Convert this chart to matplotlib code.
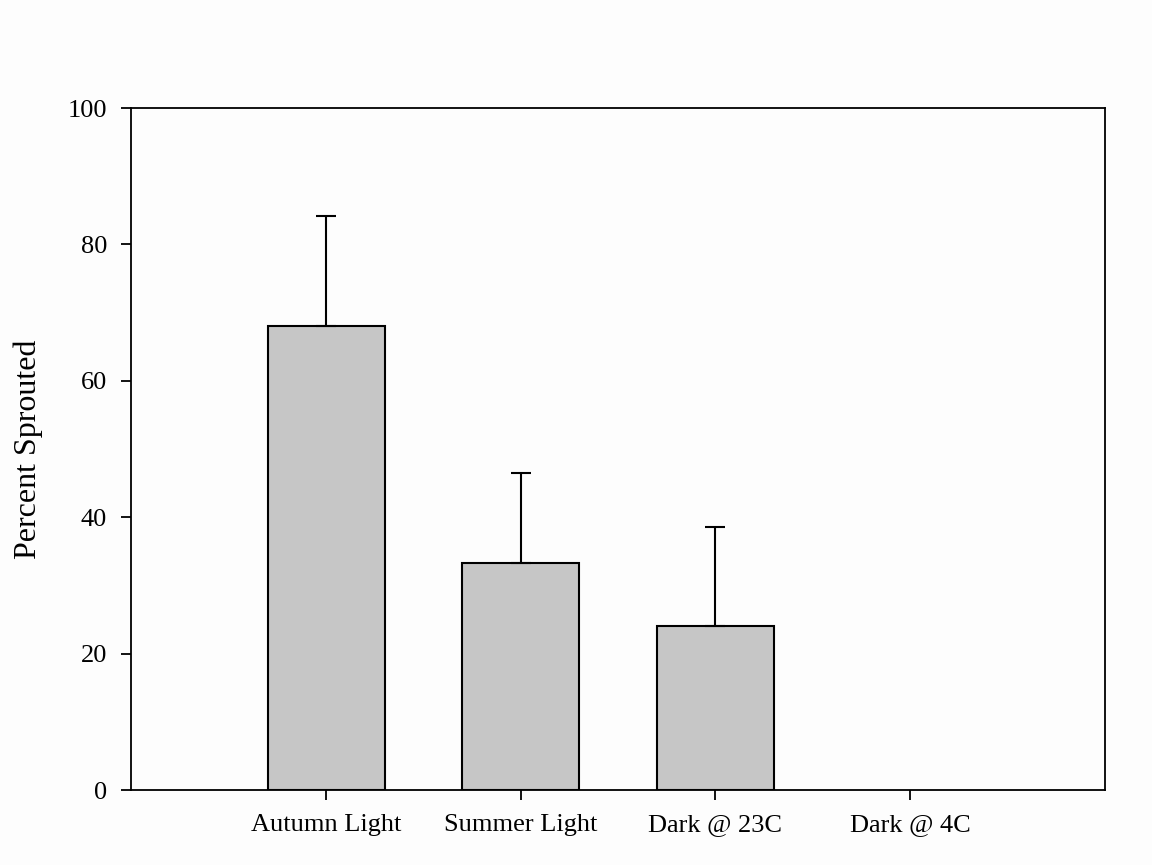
import matplotlib
matplotlib.use("Agg")
import matplotlib.pyplot as plt

categories = ["Autumn Light", "Summer Light", "Dark @ 23C", "Dark @ 4C"]
values = [68.1, 33.3, 24.1, 0.0]
errors = [16.0, 13.2, 14.5, 0.0]
yticks = [0, 20, 40, 60, 80, 100]

plt.rcParams['font.family'] = ['Liberation Serif', 'DejaVu Serif']

fig = plt.figure(figsize=(11.52, 8.65), dpi=100, facecolor='#fdfdfd')
ax = fig.add_axes([0.1141, 0.0867, 0.959 - 0.1141, 0.8751 - 0.0867])
ax.set_facecolor('#fdfdfd')

x = list(range(len(categories)))
bars_x = [i for i, v in zip(x, values) if v > 0]
bars_v = [v for v in values if v > 0]
bars_e = [e for v, e in zip(values, errors) if v > 0]
ax.bar(bars_x, bars_v, width=0.6, color='#c6c6c6', edgecolor='black', linewidth=1.5, zorder=2)
ax.errorbar(bars_x, bars_v, yerr=[[0]*len(bars_e), bars_e], fmt='none', ecolor='black',
            elinewidth=1.5, capsize=7.5, capthick=1.5, zorder=3)

ax.set_xlim(-1, 4)
ax.set_ylim(0, 100)
ax.set_xticks(x)
ax.set_xticklabels(categories)
ax.set_yticks(yticks)
ax.tick_params(axis='both', direction='out', length=7.5, width=1.3, labelsize=19)
ax.tick_params(axis='y', pad=10)
ax.tick_params(axis='x', pad=10)
for s in ax.spines.values():
    s.set_linewidth(1.3)
ax.set_ylabel("Percent Sprouted", fontsize=23, labelpad=18)

fig.savefig("out.png", dpi=100, facecolor=fig.get_facecolor())
